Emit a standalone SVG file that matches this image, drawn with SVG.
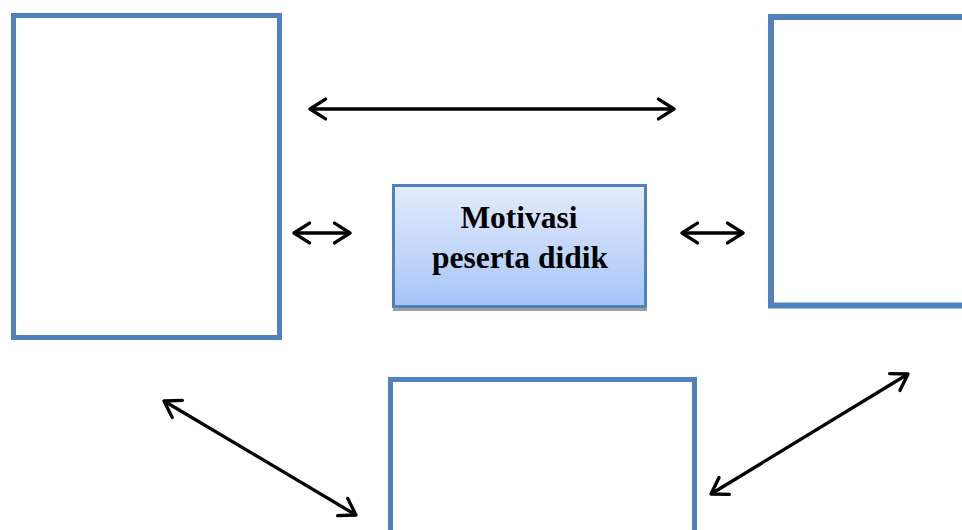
<svg xmlns="http://www.w3.org/2000/svg" width="962" height="530" viewBox="0 0 962 530">
<style>
.box{fill:#ffffff;stroke:#4f81bd;stroke-width:5}
.conn{stroke:#000;stroke-width:3.3;fill:none;marker-start:url(#ah);marker-end:url(#ah)}
.lbl{font-family:"Liberation Serif","Times New Roman",serif;font-weight:bold;font-size:31.5px;fill:#000;text-anchor:middle}
</style>
<defs>
<marker id="ah" viewBox="0 0 12 12" refX="10.5" refY="6" markerWidth="7.5" markerHeight="7.5" markerUnits="strokeWidth" orient="auto-start-reverse">
<path d="M3,1.2 L10.5,6 L3,10.8" fill="none" stroke="#000" stroke-width="1.6" stroke-linecap="round" stroke-linejoin="round"/>
</marker>
<linearGradient id="g" x1="0" y1="0" x2="0" y2="1">
<stop offset="0" stop-color="#e3ecfc"/>
<stop offset="1" stop-color="#a6c4f8"/>
</linearGradient>
</defs>
<rect width="962" height="530" fill="#ffffff"/>
<g id="node-left"><rect class="box" x="13.5" y="15.5" width="266" height="322"/></g>
<g id="node-right"><rect class="box" x="771" y="17" width="200" height="288.5" style="stroke-width:6"/></g>
<g id="node-bottom"><rect class="box" x="390.5" y="379.5" width="304" height="160"/></g>
<g id="node-center">
<rect x="393" y="189" width="254" height="122" fill="#9e9e9e"/>
<rect x="393.5" y="185.5" width="252" height="121" fill="url(#g)" stroke="#4f81bd" stroke-width="3"/>
<text class="lbl" x="519" y="228">Motivasi</text>
<text class="lbl" x="520" y="268">peserta didik</text>
</g>
<g id="connectors">
<line class="conn" x1="310" y1="109" x2="674" y2="109"/>
<line class="conn" x1="294" y1="233" x2="350" y2="233"/>
<line class="conn" x1="682" y1="233" x2="743" y2="233"/>
<line class="conn" x1="164" y1="401" x2="356" y2="515"/>
<line class="conn" x1="908" y1="374" x2="711" y2="494"/>
</g>
</svg>
